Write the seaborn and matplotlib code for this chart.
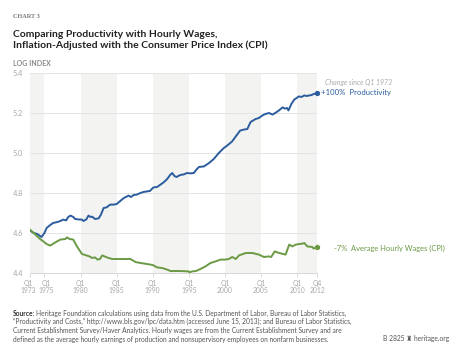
import matplotlib
matplotlib.use("Agg")
import matplotlib.pyplot as plt
import matplotlib.transforms as mtransforms
import seaborn as sns
import pandas as pd

# ---- data ----
prod_years = [1973.0, 1973.5, 1974.0, 1974.6, 1975.0, 1975.3, 1975.8, 1976.2, 1976.8, 1977.2, 1977.6,
              1978.0, 1978.3, 1978.6, 1979.0, 1979.25, 1979.7, 1980.2, 1980.4, 1980.8, 1981.1, 1981.4,
              1981.6, 1982.0, 1982.5, 1982.8, 1983.2, 1983.6, 1984.1, 1984.6, 1985.0, 1985.5, 1986.0,
              1986.65, 1987.0, 1987.35, 1987.8, 1988.3, 1988.7, 1989.2, 1989.6, 1990.1, 1990.6, 1991.0,
              1991.5, 1992.0, 1992.4, 1992.7, 1993.0, 1993.3, 1993.8, 1994.3, 1994.75, 1995.2, 1995.7,
              1996.0, 1996.4, 1997.1, 1997.8, 1998.45, 1999.15, 1999.85, 2000.3, 2001.0, 2001.5,
              2002.1, 2002.6, 2003.1, 2003.55, 2004.25, 2004.7, 2005.2, 2005.6, 2006.1, 2006.6,
              2007.3, 2008.0, 2008.3, 2008.6, 2008.8, 2009.2, 2009.6, 2010.25, 2010.6, 2011.0,
              2011.3, 2011.6, 2012.0, 2012.3, 2012.75]
prod_values = [4.613, 4.600, 4.595, 4.580, 4.600, 4.625, 4.640, 4.650, 4.655, 4.660, 4.667,
               4.663, 4.680, 4.687, 4.680, 4.670, 4.668, 4.667, 4.660, 4.668, 4.687, 4.680,
               4.682, 4.670, 4.673, 4.690, 4.725, 4.728, 4.742, 4.742, 4.745, 4.760, 4.775,
               4.787, 4.780, 4.790, 4.792, 4.800, 4.805, 4.808, 4.810, 4.828, 4.830, 4.840,
               4.853, 4.870, 4.890, 4.900, 4.885, 4.880, 4.890, 4.893, 4.900, 4.898, 4.900,
               4.915, 4.930, 4.933, 4.950, 4.970, 5.000, 5.025, 5.037, 5.058, 5.083,
               5.112, 5.117, 5.120, 5.155, 5.170, 5.175, 5.188, 5.195, 5.200, 5.192,
               5.208, 5.228, 5.222, 5.225, 5.213, 5.245, 5.267, 5.283, 5.280, 5.288,
               5.285, 5.287, 5.290, 5.295, 5.300]

wage_years = [1973.0, 1973.5, 1973.9, 1974.4, 1974.85, 1975.3, 1975.8, 1976.5, 1977.2, 1977.9,
              1978.1, 1978.5, 1979.0, 1979.5, 1980.2, 1980.9, 1981.3, 1981.6, 1982.0, 1982.35,
              1982.7, 1983.0, 1983.65, 1984.35, 1985.5, 1986.9, 1987.3, 1987.6, 1988.3, 1989.2,
              1990.0, 1990.6, 1991.3, 1992.0, 1992.45, 1993.8, 1995.0, 1995.1, 1995.45, 1996.0,
              1996.6, 1997.3, 1998.0, 1998.7, 1999.4, 2000.0, 2000.55, 2001.0, 2001.5, 2001.95,
              2002.9, 2003.8, 2004.7, 2005.4, 2006.1, 2006.4, 2006.9, 2007.5, 2008.4, 2008.9,
              2009.35, 2009.8, 2010.75, 2011.0, 2011.4, 2012.1, 2012.3, 2012.75]
wage_values = [4.617, 4.600, 4.587, 4.570, 4.558, 4.545, 4.537, 4.553, 4.567, 4.570,
               4.578, 4.570, 4.567, 4.533, 4.495, 4.487, 4.482, 4.475, 4.478, 4.467,
               4.470, 4.488, 4.478, 4.470, 4.470, 4.470, 4.462, 4.455, 4.450, 4.445,
               4.440, 4.428, 4.425, 4.417, 4.410, 4.410, 4.408, 4.403, 4.408, 4.410,
               4.420, 4.433, 4.450, 4.458, 4.467, 4.467, 4.470, 4.480, 4.470, 4.488,
               4.500, 4.500, 4.492, 4.480, 4.483, 4.480, 4.508, 4.500, 4.492, 4.542,
               4.533, 4.542, 4.547, 4.550, 4.533, 4.530, 4.522, 4.530]

y_ticks = [4.4, 4.6, 4.8, 5.0, 5.2, 5.4]
x_tick_pos = [1973, 1975, 1980, 1985, 1990, 1995, 2000, 2005, 2010, 2012.75]
x_tick_labels = ["Q1\n1973", "Q1\n1975", "Q1\n1980", "Q1\n1985", "Q1\n1990",
                 "Q1\n1995", "Q1\n2000", "Q1\n2005", "Q1\n2010", "Q4\n2012"]
band_ranges = [(1973, 1975), (1980, 1985), (1990, 1995), (2000, 2005), (2010, 2012.75)]

prod_label = "+100%  Productivity"
wage_label = "-7%  Average Hourly Wages (CPI)"

BLUE = "#2b5d9e"
GREEN = "#6b9a45"
GRAY = "#a8a8a8"

sns.set_theme(style="white")
plt.rcParams['font.family'] = ['Lato', 'DejaVu Sans']

fig = plt.figure(figsize=(4.51, 3.48), dpi=100)
ax = fig.add_axes([30 / 451, 1 - 273 / 348, 287 / 451, 200 / 348])

for a, b in band_ranges:
    ax.axvspan(a, b, color="#f3f3f1", lw=0, zorder=0)
for yv in y_ticks[1:]:
    ax.axhline(yv, color="#e4e4e4", lw=0.7, zorder=1)

df_p = pd.DataFrame({"year": prod_years, "value": prod_values})
df_w = pd.DataFrame({"year": wage_years, "value": wage_values})
sns.lineplot(data=df_p, x="year", y="value", color=BLUE, lw=1.4, ax=ax, zorder=3)
sns.lineplot(data=df_w, x="year", y="value", color=GREEN, lw=1.4, ax=ax, zorder=3)
ax.plot(prod_years[-1], prod_values[-1], "o", color=BLUE, ms=2.8, zorder=4, clip_on=False)
ax.plot(wage_years[-1], wage_values[-1], "o", color=GREEN, ms=2.8, zorder=4, clip_on=False)

ax.set_xlim(1973, 2012.75)
ax.set_ylim(4.4, 5.4)
ax.set_xlabel("")
ax.set_ylabel("")
ax.set_yticks(y_ticks)
ax.set_yticklabels([f"{v:.1f}" for v in y_ticks])
ax.set_xticks(x_tick_pos)
ax.set_xticklabels(x_tick_labels, linespacing=1.05)
ax.tick_params(axis="y", length=0, pad=5, labelsize=5.3, labelcolor=GRAY)
ax.tick_params(axis="x", length=3, width=0.6, color="#d8d8d8", pad=2,
               labelsize=4.9, labelcolor=GRAY, bottom=True)
# nudge the two crowded first labels apart, as in the reference
xlabels = ax.get_xticklabels()
for lbl, dx in [(xlabels[0], -2.0), (xlabels[1], 2.0)]:
    lbl.set_transform(lbl.get_transform() + mtransforms.ScaledTranslation(dx / 100, 0, fig.dpi_scale_trans))
for s in ["top", "right", "left"]:
    ax.spines[s].set_visible(False)
ax.spines["bottom"].set_color("#d8d8d8")
ax.spines["bottom"].set_linewidth(0.7)
ax.set_facecolor("white")

# labels at line ends
fig.text(325 / 451, 1 - 83 / 348, "Change since Q1 1973",
         fontsize=5.0, color="#aaaaaa", style="italic", va="center", ha="left")
fig.text(321 / 451, 1 - 93 / 348, prod_label,
         fontsize=5.6, color=BLUE, va="center", ha="left")
fig.text(334 / 451, 1 - 248 / 348, wage_label,
         fontsize=5.4, color=GREEN, va="center", ha="left")

# header
fig.text(13 / 451, 1 - 16 / 348, "CHART 3", fontsize=4.5, color="#777777",
         fontweight="bold", family=["Liberation Serif", "DejaVu Serif"], va="center")
fig.text(13 / 451, 1 - 40 / 348,
         "Comparing Productivity with Hourly Wages,\nInflation-Adjusted with the Consumer Price Index (CPI)",
         fontsize=7.5, color="#222222", fontweight="bold", va="center", linespacing=1.22)
fig.text(13 / 451, 1 - 64 / 348, "LOG INDEX", fontsize=5, color="#888888",
         fontweight="bold", va="center")

# source
fig.text(13 / 451, 1 - 313 / 348, "Source:", fontsize=4.75, color="#333333",
         fontweight="bold", va="center")
fig.text(36.5 / 451, 1 - 313 / 348,
         "Heritage Foundation calculations using data from the U.S. Department of Labor, Bureau of Labor Statistics,",
         fontsize=4.75, color="#555555", va="center")
src_rest = ("\u201cProductivity and Costs,\u201d http://www.bls.gov/lpc/data.htm (accessed June 15, 2013); and Bureau of Labor Statistics,\n"
            "Current Establishment Survey/Haver Analytics. Hourly wages are from the Current Establishment Survey and are\n"
            "defined as the average hourly earnings of production and nonsupervisory employees on nonfarm businesses.")
fig.text(13 / 451, 1 - 330.5 / 348, src_rest, fontsize=4.75, color="#555555", va="center",
         linespacing=1.4)
fig.text(449 / 451, 1 - 339 / 348, "B 2825 \u265c heritage.org", fontsize=4.8,
         color="#555555", va="center", ha="right", family=["Lato", "DejaVu Sans"])

fig.savefig("out.png", dpi=100, facecolor="white")
